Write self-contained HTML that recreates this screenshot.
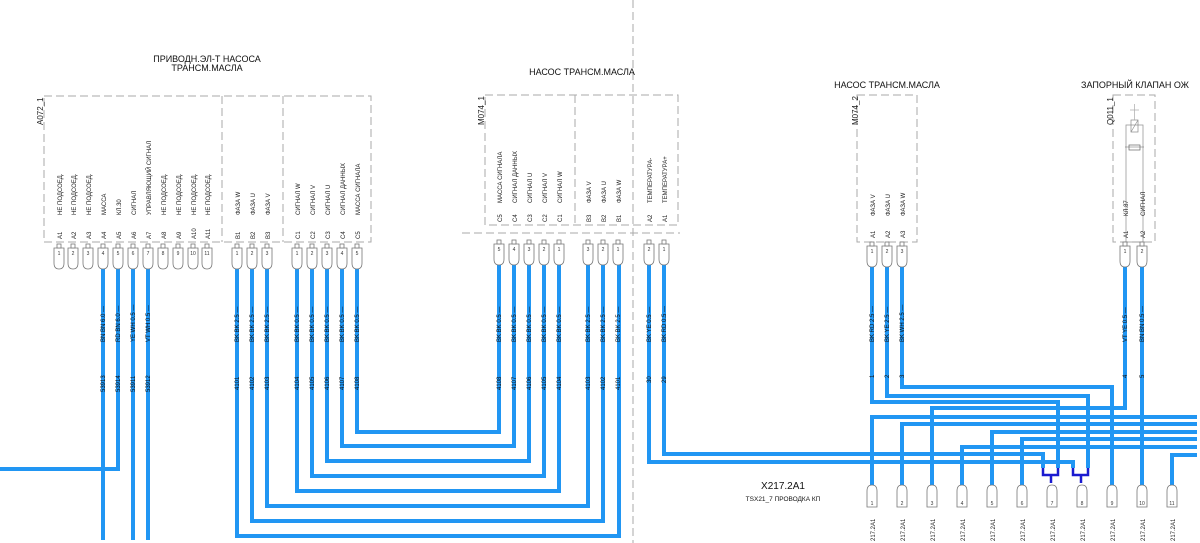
<!DOCTYPE html>
<html><head><meta charset="utf-8"><style>
html,body{margin:0;padding:0;background:#fff;}
svg{display:block;font-family:"Liberation Sans","Noto Sans CJK SC",sans-serif;}
.w{fill:none;stroke:#2196f3;stroke-width:4;}
.d{fill:none;stroke:#aaa;stroke-width:1;stroke-dasharray:8,4;}
.p{fill:#fff;stroke:#777;stroke-width:0.8;}
.t{font-size:7px;fill:#222;}
.s{font-size:6px;fill:#222;}
.n{font-size:5px;fill:#333;text-anchor:middle;}
.ttl{font-size:9px;fill:#111;text-anchor:middle;}
</style></head><body>
<svg width="1200" height="543" viewBox="0 0 1200 543">
<defs>
<g id="pt"><path class="p" d="M-5,0H5V15Q5,21 0,21Q-5,21 -5,15Z"/><rect class="p" x="-2" y="-4" width="4" height="4"/></g>
<g id="pb"><path class="p" d="M-5,22H5V6Q5,0 0,0Q-5,0 -5,6Z"/></g>
</defs>

<line class="d" x1="633" y1="0" x2="633" y2="543"/>
<rect class="d" x="44" y="96" width="327" height="146"/>
<line class="d" x1="222" y1="96" x2="222" y2="242"/>
<line class="d" x1="283" y1="96" x2="283" y2="242"/>
<rect class="d" x="485" y="95" width="193" height="130"/>
<line class="d" x1="575" y1="95" x2="575" y2="225"/>
<line class="d" x1="462" y1="233" x2="680" y2="233"/>
<rect class="d" x="857" y="95" width="60" height="147"/>
<rect class="d" x="1113" y="95" width="42" height="147"/>
<rect x="1126" y="125" width="17" height="117" fill="none" stroke="#999" stroke-width="0.8"/>
<rect x="1129" y="145" width="11" height="5" fill="none" stroke="#666" stroke-width="0.7"/>
<line x1="1125" y1="147" x2="1144" y2="147" stroke="#666" stroke-width="0.5"/>
<rect x="1131" y="120" width="7" height="12" fill="none" stroke="#888" stroke-width="0.7"/>
<line x1="1131" y1="132" x2="1138" y2="120" stroke="#888" stroke-width="0.6"/>
<line x1="1134.5" y1="104" x2="1134.5" y2="120" stroke="#aaa" stroke-width="0.7"/>
<line x1="1130" y1="110" x2="1139" y2="110" stroke="#aaa" stroke-width="0.7"/>

<text class="ttl" x="207" y="62">ПРИВОДН.ЭЛ-Т НАСОСА</text>
<text class="ttl" x="207" y="71">ТРАНСМ.МАСЛА</text>
<text class="ttl" x="582" y="75">НАСОС ТРАНСМ.МАСЛА</text>
<text class="ttl" x="887" y="88">НАСОС ТРАНСМ.МАСЛА</text>
<text class="ttl" x="1135" y="88">ЗАПОРНЫЙ КЛАПАН ОЖ</text>
<text class="ttl" x="783" y="489" style="font-size:10px">X217.2A1</text>
<text class="ttl" x="783" y="501" style="font-size:6.5px">TSX21_7 ПРОВОДКА КП</text>

<g class="t" style="font-size:8px">
<text transform="translate(43,125) rotate(-90)">A072_1</text>
<text transform="translate(484,125) rotate(-90)">M074_1</text>
<text transform="translate(858,125) rotate(-90)">M074_2</text>
<text transform="translate(1113,125) rotate(-90)">Q011_1</text>
</g>

<g class="w">
<path d="M103,267V540"/><path d="M118,267V469H0"/><path d="M133,267V540"/><path d="M148,267V540"/>
<path d="M237,267V536H619V262"/><path d="M252,267V521H603V262"/><path d="M267,267V506H588V262"/>
<path d="M297,267V491H559V262"/><path d="M312,267V476H544V262"/><path d="M327,267V461H529V262"/>
<path d="M342,267V446H514V262"/><path d="M357,267V432H499V262"/>
<path d="M649,262V462H1073V468"/><path d="M664,262V454H1043V468"/>
<path d="M872,265V402H1058V468"/><path d="M887,265V396H1088V468"/><path d="M902,265V387H1112V485"/>
<path d="M1125,265V408H932V485"/><path d="M1142,265V485"/>
<path d="M1197,417H872V485"/><path d="M1197,424H902V485"/><path d="M1197,432H992V485"/>
<path d="M1197,439H1022V485"/><path d="M1197,447H962V485"/><path d="M1197,455H1172V485"/>
</g>
<g fill="none" stroke="#1a1ad0" stroke-width="2.5">
<path d="M1043,468V475H1058V468M1051,475V483"/>
<path d="M1073,468V475H1088V468M1081,475V483"/>
</g>

<g>
<use href="#pt" x="59" y="248"/><use href="#pt" x="73" y="248"/><use href="#pt" x="88" y="248"/><use href="#pt" x="103" y="248"/><use href="#pt" x="118" y="248"/><use href="#pt" x="133" y="248"/><use href="#pt" x="148" y="248"/><use href="#pt" x="163" y="248"/><use href="#pt" x="178" y="248"/><use href="#pt" x="193" y="248"/><use href="#pt" x="207" y="248"/>
<use href="#pt" x="237" y="248"/><use href="#pt" x="252" y="248"/><use href="#pt" x="267" y="248"/>
<use href="#pt" x="297" y="248"/><use href="#pt" x="312" y="248"/><use href="#pt" x="327" y="248"/><use href="#pt" x="342" y="248"/><use href="#pt" x="357" y="248"/>
<use href="#pt" x="499" y="244"/><use href="#pt" x="514" y="244"/><use href="#pt" x="529" y="244"/><use href="#pt" x="544" y="244"/><use href="#pt" x="559" y="244"/>
<use href="#pt" x="588" y="244"/><use href="#pt" x="603" y="244"/><use href="#pt" x="618" y="244"/>
<use href="#pt" x="649" y="244"/><use href="#pt" x="664" y="244"/>
<use href="#pt" x="872" y="246"/><use href="#pt" x="887" y="246"/><use href="#pt" x="902" y="246"/>
<use href="#pt" x="1125" y="246"/><use href="#pt" x="1142" y="246"/>
</g>
<g class="n">
<text x="59" y="255">1</text><text x="73" y="255">2</text><text x="88" y="255">3</text><text x="103" y="255">4</text><text x="118" y="255">5</text><text x="133" y="255">6</text><text x="148" y="255">7</text><text x="163" y="255">8</text><text x="178" y="255">9</text><text x="193" y="255">10</text><text x="207" y="255">11</text>
<text x="237" y="255">1</text><text x="252" y="255">2</text><text x="267" y="255">3</text>
<text x="297" y="255">1</text><text x="312" y="255">2</text><text x="327" y="255">3</text><text x="342" y="255">4</text><text x="357" y="255">5</text>
<text x="499" y="251">5</text><text x="514" y="251">4</text><text x="529" y="251">3</text><text x="544" y="251">2</text><text x="559" y="251">1</text>
<text x="588" y="251">3</text><text x="603" y="251">2</text><text x="618" y="251">1</text>
<text x="649" y="251">2</text><text x="664" y="251">1</text>
<text x="872" y="253">1</text><text x="887" y="253">2</text><text x="902" y="253">3</text>
<text x="1125" y="253">1</text><text x="1142" y="253">2</text>
</g>

<g>
<use href="#pb" x="872" y="485"/><use href="#pb" x="902" y="485"/><use href="#pb" x="932" y="485"/><use href="#pb" x="962" y="485"/><use href="#pb" x="992" y="485"/><use href="#pb" x="1022" y="485"/><use href="#pb" x="1052" y="485"/><use href="#pb" x="1082" y="485"/><use href="#pb" x="1112" y="485"/><use href="#pb" x="1142" y="485"/><use href="#pb" x="1172" y="485"/>
</g>
<g class="n">
<text x="872" y="505">1</text><text x="902" y="505">2</text><text x="932" y="505">3</text><text x="962" y="505">4</text><text x="992" y="505">5</text><text x="1022" y="505">6</text><text x="1052" y="505">7</text><text x="1082" y="505">8</text><text x="1112" y="505">9</text><text x="1142" y="505">10</text><text x="1172" y="505">11</text>
</g>
<g class="s">
<text transform="translate(875,541) rotate(-90)">217.2A1</text><text transform="translate(905,541) rotate(-90)">217.2A1</text><text transform="translate(935,541) rotate(-90)">217.2A1</text><text transform="translate(965,541) rotate(-90)">217.2A1</text><text transform="translate(995,541) rotate(-90)">217.2A1</text><text transform="translate(1025,541) rotate(-90)">217.2A1</text><text transform="translate(1055,541) rotate(-90)">217.2A1</text><text transform="translate(1085,541) rotate(-90)">217.2A1</text><text transform="translate(1115,541) rotate(-90)">217.2A1</text><text transform="translate(1145,541) rotate(-90)">217.2A1</text><text transform="translate(1175,541) rotate(-90)">217.2A1</text>
</g>

<g class="s">
<text transform="translate(62,239) rotate(-90)">A1</text><text transform="translate(76,239) rotate(-90)">A2</text><text transform="translate(91,239) rotate(-90)">A3</text><text transform="translate(106,239) rotate(-90)">A4</text><text transform="translate(121,239) rotate(-90)">A5</text><text transform="translate(136,239) rotate(-90)">A6</text><text transform="translate(151,239) rotate(-90)">A7</text><text transform="translate(166,239) rotate(-90)">A8</text><text transform="translate(181,239) rotate(-90)">A9</text><text transform="translate(196,239) rotate(-90)">A10</text><text transform="translate(210,239) rotate(-90)">A11</text>
<text transform="translate(240,239) rotate(-90)">B1</text><text transform="translate(255,239) rotate(-90)">B2</text><text transform="translate(270,239) rotate(-90)">B3</text>
<text transform="translate(300,239) rotate(-90)">C1</text><text transform="translate(315,239) rotate(-90)">C2</text><text transform="translate(330,239) rotate(-90)">C3</text><text transform="translate(345,239) rotate(-90)">C4</text><text transform="translate(360,239) rotate(-90)">C5</text>
<text transform="translate(62,215) rotate(-90)">НЕ ПОДСОЕД.</text><text transform="translate(76,215) rotate(-90)">НЕ ПОДСОЕД.</text><text transform="translate(91,215) rotate(-90)">НЕ ПОДСОЕД.</text><text transform="translate(106,215) rotate(-90)">МАССА</text><text transform="translate(121,215) rotate(-90)">КЛ.30</text><text transform="translate(136,215) rotate(-90)">СИГНАЛ</text><text transform="translate(151,215) rotate(-90)">УПРАВЛЯЮЩИЙ СИГНАЛ</text><text transform="translate(166,215) rotate(-90)">НЕ ПОДСОЕД.</text><text transform="translate(181,215) rotate(-90)">НЕ ПОДСОЕД.</text><text transform="translate(196,215) rotate(-90)">НЕ ПОДСОЕД.</text><text transform="translate(210,215) rotate(-90)">НЕ ПОДСОЕД.</text>
<text transform="translate(240,215) rotate(-90)">ФАЗА W</text><text transform="translate(255,215) rotate(-90)">ФАЗА U</text><text transform="translate(270,215) rotate(-90)">ФАЗА V</text>
<text transform="translate(300,215) rotate(-90)">СИГНАЛ W</text><text transform="translate(315,215) rotate(-90)">СИГНАЛ V</text><text transform="translate(330,215) rotate(-90)">СИГНАЛ U</text><text transform="translate(345,215) rotate(-90)">СИГНАЛ ДАННЫХ</text><text transform="translate(360,215) rotate(-90)">МАССА СИГНАЛА</text>
<text transform="translate(502,222) rotate(-90)">C5</text><text transform="translate(517,222) rotate(-90)">C4</text><text transform="translate(532,222) rotate(-90)">C3</text><text transform="translate(547,222) rotate(-90)">C2</text><text transform="translate(562,222) rotate(-90)">C1</text>
<text transform="translate(591,222) rotate(-90)">B3</text><text transform="translate(606,222) rotate(-90)">B2</text><text transform="translate(621,222) rotate(-90)">B1</text>
<text transform="translate(652,222) rotate(-90)">A2</text><text transform="translate(667,222) rotate(-90)">A1</text>
<text transform="translate(502,203) rotate(-90)">МАССА СИГНАЛА</text><text transform="translate(517,203) rotate(-90)">СИГНАЛ ДАННЫХ</text><text transform="translate(532,203) rotate(-90)">СИГНАЛ U</text><text transform="translate(547,203) rotate(-90)">СИГНАЛ V</text><text transform="translate(562,203) rotate(-90)">СИГНАЛ W</text>
<text transform="translate(591,203) rotate(-90)">ФАЗА V</text><text transform="translate(606,203) rotate(-90)">ФАЗА U</text><text transform="translate(621,203) rotate(-90)">ФАЗА W</text>
<text transform="translate(652,203) rotate(-90)">ТЕМПЕРАТУРА-</text><text transform="translate(667,203) rotate(-90)">ТЕМПЕРАТУРА+</text>
<text transform="translate(875,238) rotate(-90)">A1</text><text transform="translate(890,238) rotate(-90)">A2</text><text transform="translate(905,238) rotate(-90)">A3</text>
<text transform="translate(875,216) rotate(-90)">ФАЗА V</text><text transform="translate(890,216) rotate(-90)">ФАЗА U</text><text transform="translate(905,216) rotate(-90)">ФАЗА W</text>
<text transform="translate(1128,238) rotate(-90)">A1</text><text transform="translate(1145,238) rotate(-90)">A2</text>
<text transform="translate(1128,216) rotate(-90)">КЛ.87</text><text transform="translate(1145,216) rotate(-90)">СИГНАЛ</text>
</g>

<g class="s" style="font-size:6px;fill:#111">
<text transform="translate(105,342) rotate(-90)">BN BN 6.0 —</text><text transform="translate(120,342) rotate(-90)">RD BN 6.0 —</text><text transform="translate(135,342) rotate(-90)">YE WH 0.5 —</text><text transform="translate(150,342) rotate(-90)">VT WH 0.5 —</text>
<text transform="translate(105,392) rotate(-90)">53913</text><text transform="translate(120,392) rotate(-90)">53914</text><text transform="translate(135,392) rotate(-90)">53911</text><text transform="translate(150,392) rotate(-90)">53912</text>
<text transform="translate(239,342) rotate(-90)">BK BK 2.5 —</text><text transform="translate(254,342) rotate(-90)">BK BK 2.5 —</text><text transform="translate(269,342) rotate(-90)">BK BK 2.5 —</text>
<text transform="translate(239,390) rotate(-90)">4101</text><text transform="translate(254,390) rotate(-90)">4102</text><text transform="translate(269,390) rotate(-90)">4103</text>
<text transform="translate(299,342) rotate(-90)">BK BK 0.5 —</text><text transform="translate(314,342) rotate(-90)">BK BK 0.5 —</text><text transform="translate(329,342) rotate(-90)">BK BK 0.5 —</text><text transform="translate(344,342) rotate(-90)">BK BK 0.5 —</text><text transform="translate(359,342) rotate(-90)">BK BK 0.5 —</text>
<text transform="translate(299,390) rotate(-90)">4104</text><text transform="translate(314,390) rotate(-90)">4105</text><text transform="translate(329,390) rotate(-90)">4106</text><text transform="translate(344,390) rotate(-90)">4107</text><text transform="translate(359,390) rotate(-90)">4108</text>
<text transform="translate(501,342) rotate(-90)">BK BK 0.5 —</text><text transform="translate(516,342) rotate(-90)">BK BK 0.5 —</text><text transform="translate(531,342) rotate(-90)">BK BK 0.5 —</text><text transform="translate(546,342) rotate(-90)">BK BK 0.5 —</text><text transform="translate(561,342) rotate(-90)">BK BK 0.5 —</text>
<text transform="translate(501,390) rotate(-90)">4108</text><text transform="translate(516,390) rotate(-90)">4107</text><text transform="translate(531,390) rotate(-90)">4106</text><text transform="translate(546,390) rotate(-90)">4105</text><text transform="translate(561,390) rotate(-90)">4104</text>
<text transform="translate(590,342) rotate(-90)">BK BK 2.5 —</text><text transform="translate(605,342) rotate(-90)">BK BK 2.5 —</text><text transform="translate(620,342) rotate(-90)">BK BK 2.5 —</text>
<text transform="translate(590,390) rotate(-90)">4103</text><text transform="translate(605,390) rotate(-90)">4102</text><text transform="translate(620,390) rotate(-90)">4101</text>
<text transform="translate(651,342) rotate(-90)">BK YE 0.5 —</text><text transform="translate(666,342) rotate(-90)">BK RD 0.5 —</text>
<text transform="translate(651,383) rotate(-90)">30</text><text transform="translate(666,383) rotate(-90)">29</text>
<text transform="translate(874,342) rotate(-90)">BK RD 2.5 —</text><text transform="translate(889,342) rotate(-90)">BK YE 2.5 —</text><text transform="translate(904,342) rotate(-90)">BK WH 2.5 —</text>
<text transform="translate(874,378) rotate(-90)">1</text><text transform="translate(889,378) rotate(-90)">2</text><text transform="translate(904,378) rotate(-90)">3</text>
<text transform="translate(1127,342) rotate(-90)">VT YE 0.5 —</text><text transform="translate(1144,342) rotate(-90)">BN BN 0.5 —</text>
<text transform="translate(1127,378) rotate(-90)">4</text><text transform="translate(1144,378) rotate(-90)">5</text>
</g>
</svg>
</body></html>
